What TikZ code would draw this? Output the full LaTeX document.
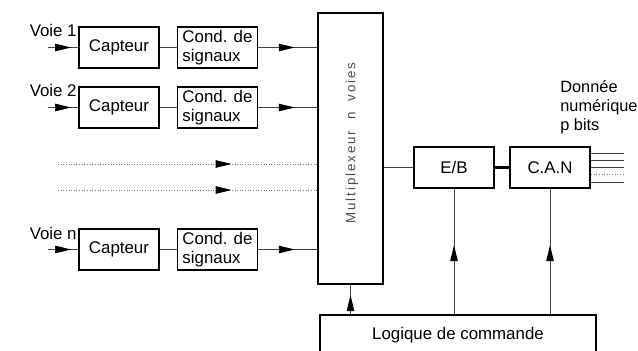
\documentclass[tikz,border=0pt]{standalone}
\usepackage{fontspec}
\setmainfont{Liberation Sans}
\usetikzlibrary{arrows.meta,decorations.markings}

\tikzset{
  bloc/.style={draw,line width=1.1pt,minimum width=1.6cm,minimum height=0.82cm,inner sep=1pt},
  fil/.style={black!75,line width=0.5pt},
  pointil/.style={black!55,line width=0.5pt,densely dotted},
  flech/.style={postaction={decorate,decoration={markings,mark=at position #1 with {\arrow[black]{Triangle[length=3.2mm,width=1.5mm]}}}}},
}

\begin{document}
\begin{tikzpicture}[x=0.02cm,y=-0.02cm,font=\fontsize{9.6}{10.8}\selectfont]
\clip (0,0) rectangle (638,351);
% voie 1
\node[bloc] (cap1) at (119,47.5) {Capteur};
\node[bloc,align=left] (cond1) at (217.5,47.5) {Cond. de\\signaux};
\node[anchor=base east,inner sep=0pt] (v1) at (77,37) {Voie 1};
\coordinate (in1) at (48,47.5);
% voie 2
\node[bloc] (cap2) at (119,107.5) {Capteur};
\node[bloc,align=left] (cond2) at (217.5,107.5) {Cond. de\\signaux};
\node[anchor=base east,inner sep=0pt] (v2) at (77,97) {Voie 2};
\coordinate (in2) at (48,107.5);
% voie n
\node[bloc] (capn) at (119,249.5) {Capteur};
\node[bloc,align=left] (condn) at (217.5,249.5) {Cond. de\\signaux};
\node[anchor=base east,inner sep=0pt] (vn) at (77,239) {Voie n};
\coordinate (inn) at (48,249.5);
% multiplexeur
\node[bloc,minimum width=1.3cm,minimum height=5.42cm] (mux) at (350.5,148.5) {};
\node[rotate=90,black!70,font=\fontsize{7.6}{9}\selectfont\addfontfeature{LetterSpace=14}] (muxt) at (352,143)
  {Multiplexeur\ \ n\ \ voies};
% voies pointillees
\coordinate (d1) at (58,164);
\coordinate (d2) at (58,190);
% chaine de conversion
\node[bloc] (eb) at (454,167.5) {E/B};
\node[bloc] (can) at (550,167.5) {C.A.N};
\node[bloc,minimum width=5.52cm,minimum height=0.8cm] (logi) at (458,335) {Logique de commande};
\node[anchor=north west,align=left,inner sep=0pt,font=\fontsize{9.3}{10.8}\selectfont] (donnee) at (560,80)
  {Donnée\\numérique\\p bits};

% liaisons
\draw[fil,flech=0.77] (in1) -- (cap1);
\draw[fil] (cap1) -- (cond1);
\draw[fil,flech=0.62] (cond1) -- (cond1 -| mux.west);
\draw[fil,flech=0.77] (in2) -- (cap2);
\draw[fil] (cap2) -- (cond2);
\draw[fil,flech=0.62] (cond2) -- (cond2 -| mux.west);
\draw[fil,flech=0.77] (inn) -- (capn);
\draw[fil] (capn) -- (condn);
\draw[fil,flech=0.62] (condn) -- (condn -| mux.west);
\draw[pointil,flech=0.67] (d1) -- (d1 -| mux.west);
\draw[pointil,flech=0.67] (d2) -- (d2 -| mux.west);
\draw[fil] (eb.west -| mux.east) -- (eb.west);
\draw[line width=1.5pt] (eb) -- (can);
\draw[fil] ([yshift=0.28cm]can.east) -- ++(33,0);
\draw[fil] ([yshift=0.14cm]can.east) -- ++(33,0);
\draw[fil] (can.east) -- ++(33,0);
\draw[pointil] ([yshift=-0.14cm]can.east) -- ++(33,0);
\draw[fil] ([yshift=-0.3cm]can.east) -- ++(33,0);
\draw[fil,flech=0.65] (logi.north -| mux.south) -- (mux.south);
\draw[fil,flech=0.55] (logi.north -| eb.south) -- (eb.south);
\draw[fil,flech=0.55] (logi.north -| can.south) -- (can.south);
\end{tikzpicture}
\end{document}
